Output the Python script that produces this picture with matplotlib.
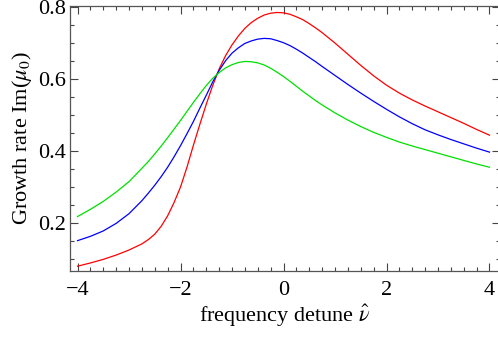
import numpy as np
import matplotlib
matplotlib.use('Agg')
import matplotlib.pyplot as plt
from matplotlib.ticker import MultipleLocator

plt.rcParams['font.family'] = ['Liberation Serif', 'DejaVu Serif']
plt.rcParams['mathtext.fontset'] = 'stix'

# frequency detune values (finer where the curves bend)
nu = [-4, -3.75, -3.5, -3.25, -3, -2.75, -2.625, -2.5, -2.375, -2.25, -2.125, -2,
      -1.875, -1.75, -1.625, -1.5, -1.375, -1.25, -1.125, -1, -0.875, -0.75,
      -0.625, -0.5, -0.375, -0.25, -0.125, 0, 0.125, 0.25, 0.375, 0.5, 0.625, 0.75,
      1, 1.25, 1.5, 1.75, 2, 2.25, 2.5, 2.75, 3, 3.25, 3.5, 3.75, 4]

# growth rate Im(mu0) for the three curves
red = [0.080, 0.089, 0.099, 0.111, 0.125, 0.142, 0.154, 0.169, 0.191, 0.220, 0.257, 0.300,
       0.355, 0.416, 0.474, 0.530, 0.582, 0.628, 0.665, 0.695, 0.720, 0.741,
       0.757, 0.769, 0.778, 0.783, 0.785, 0.784, 0.780, 0.773, 0.765, 0.754, 0.742, 0.729,
       0.700, 0.669, 0.638, 0.609, 0.583, 0.561, 0.542, 0.525, 0.509, 0.493, 0.477, 0.460, 0.444]
blue = [0.151, 0.163, 0.178, 0.199, 0.226, 0.262, 0.283, 0.305, 0.329, 0.355, 0.384, 0.415,
        0.448, 0.482, 0.519, 0.555, 0.592, 0.624, 0.651, 0.672, 0.687, 0.699,
        0.706, 0.711, 0.713, 0.712, 0.707, 0.701, 0.693, 0.683, 0.672, 0.660, 0.648, 0.635,
        0.610, 0.585, 0.561, 0.538, 0.516, 0.495, 0.476, 0.459, 0.445, 0.432, 0.420, 0.408, 0.397]
green = [0.218, 0.238, 0.260, 0.286, 0.315, 0.352, 0.371, 0.392, 0.414, 0.437, 0.461, 0.485,
         0.510, 0.535, 0.559, 0.582, 0.602, 0.618, 0.631, 0.640, 0.646, 0.649,
         0.648, 0.645, 0.639, 0.630, 0.619, 0.607, 0.594, 0.580, 0.566, 0.553, 0.540, 0.528,
         0.506, 0.486, 0.468, 0.452, 0.438, 0.425, 0.414, 0.404, 0.394, 0.384, 0.374, 0.364, 0.355]

W, H = 498, 341
fig = plt.figure(figsize=(W / 100, H / 100), dpi=100)
ax = fig.add_axes([70 / W, (H - 271) / H, 430 / W, 265 / H])

ax.plot(nu, red, color='#ff0000', lw=0.9)
ax.plot(nu, blue, color='#0000ff', lw=0.9)
ax.plot(nu, green, color='#00e000', lw=0.9)

ax.set_xlim(-4.146, 4.204)
ax.set_ylim(0.0667, 0.803)

ax.xaxis.set_major_locator(MultipleLocator(2))
ax.xaxis.set_minor_locator(MultipleLocator(0.25))
ax.yaxis.set_major_locator(MultipleLocator(0.2))
ax.yaxis.set_minor_locator(MultipleLocator(0.05))

for s in ax.spines.values():
    s.set_color('#555555')
    s.set_linewidth(0.9)

ax.tick_params(which='both', direction='in', top=True, right=True,
               color='#444444', width=0.8, labelsize=16)
ax.tick_params(which='major', length=6)
ax.tick_params(which='minor', length=3)
ax.tick_params(axis='x', pad=7)
ax.tick_params(axis='y', pad=3)

ax.set_xlabel(r'frequency detune $\hat{\nu}$', fontsize=16, labelpad=2)
ax.set_ylabel(r'Growth rate Im($\mu_0$)', fontsize=16, labelpad=3)

fig.savefig('out.png', dpi=100)
